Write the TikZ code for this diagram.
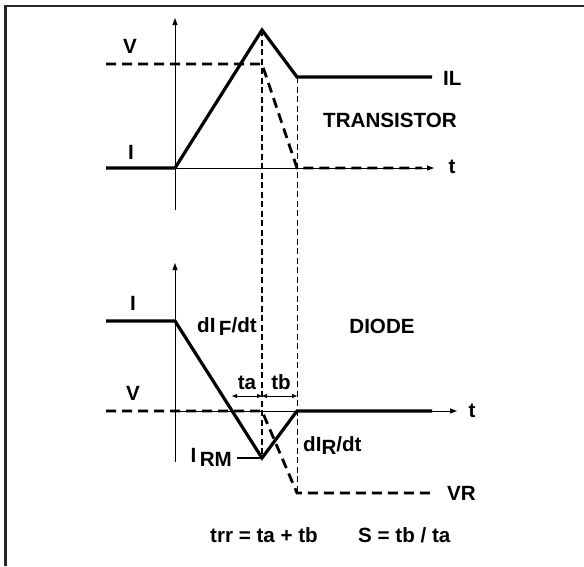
\documentclass[tikz,border=0pt]{standalone}
\usepackage{fontspec}
\setmainfont{Liberation Sans}
\usetikzlibrary{arrows.meta}
\begin{document}
\begin{tikzpicture}[x=1pt,y=-1pt,
  thickline/.style={line width=3.2pt, line join=miter},
  thickdash/.style={line width=2.8pt, dash pattern=on 10pt off 6pt},
  guideA/.style={line width=1.5pt, dash pattern=on 6pt off 3.5pt},
  guideB/.style={line width=1pt, dash pattern=on 6pt off 3.5pt},
  axisarrow/.style={-{Triangle[length=7pt,width=5pt]}, line width=0.9pt},
  dimarrow/.style={{Triangle[length=5pt,width=4pt]}-{Triangle[length=5pt,width=4pt]}, line width=0.9pt},
  lbl/.style={font=\fontsize{20.6}{24}\selectfont\bfseries, inner sep=0pt},
  ]
\useasboundingbox (0,0) rectangle (584,566);
% frame
\coordinate (fbl) at (5.5,566);
\coordinate (ftl) at (5.5,6);
\coordinate (ftr) at (584,6);
\draw[line width=2.5pt, color=black!85] (fbl) -- (ftl) -- (ftr);

% ---------- TRANSISTOR ----------
\coordinate (tA) at (106,168);
\coordinate (tO) at (175,168);
\coordinate (tPk) at (262,30);
\coordinate (tK) at (297,77);
\coordinate (tIL) at (432,77);
\coordinate (tAxB) at (175,210);
\coordinate (tAxT) at (175,18);
\coordinate (tTend) at (434,168);
\coordinate (tVa) at (106,64);
\coordinate (tVb) at (262,64);
\coordinate (tVc) at (297,168);
\coordinate (tVd) at (422,168);

\draw[axisarrow] (tAxB) -- (tAxT);
\draw[axisarrow] (tO) -- (tTend);
\draw[thickline] (tA) -- (tO) -- (tPk) -- (tK) -- (tIL);
\draw[thickdash] (tVa) -- (tVb) -- (tVc) -- (tVd);

\node[lbl, anchor=base] (tV) at (130,53) {V};
\node[lbl, anchor=base] (tI) at (131,159) {I};
\node[lbl, anchor=base west] (tILl) at (443,85) {IL};
\node[lbl, anchor=base] (tTR) at (390,127) {TRANSISTOR};
\node[lbl, anchor=base] (tt) at (452,173) {t};

% ---------- DIODE ----------
\coordinate (dA) at (106,321);
\coordinate (dO) at (175,321);
\coordinate (dRM) at (262,458);
\coordinate (dK) at (297,411);
\coordinate (dE) at (432,411);
\coordinate (dAxB) at (175,462);
\coordinate (dAxT) at (175,263);
\coordinate (dTs) at (175,411);
\coordinate (dTend) at (457,411);
\coordinate (dVa) at (106,411);
\coordinate (dVb) at (262,411);
\coordinate (dVc) at (297,493);
\coordinate (dVd) at (430,493);
\coordinate (dX) at (232,396);
\coordinate (dM) at (262,396);
\coordinate (dN) at (297,396);
\coordinate (dIRMs) at (237,458);

\draw[axisarrow] (dAxB) -- (dAxT);
\draw[axisarrow] (dTs) -- (dTend);
\draw[thickline] (dA) -- (dO) -- (dRM) -- (dK) -- (dE);
\draw[thickdash] (dVa) -- (dVb) -- (dVc) -- (dVd);
\draw[line width=1.3pt] (dIRMs) -- (dRM);

% guides
\draw[guideA] (tPk) -- (dRM);
\draw[guideB] (tK) -- (dVc);

\draw[dimarrow] (dX) -- (dM);
\draw[dimarrow] (dM) -- (dN);

\node[lbl, anchor=base] (dI) at (133,310) {I};
\node[lbl, anchor=base] (dV) at (133,400) {V};
\node[lbl, anchor=base] (dt) at (472,417) {t};
\node[lbl, anchor=base] (dDI) at (382,333) {DIODE};
\node[lbl, anchor=base west] (dIF) at (197,332) {dI\,\raisebox{-3pt}{F}/dt};
\node[lbl, anchor=base] (dta) at (247,389) {ta};
\node[lbl, anchor=base] (dtb) at (281,389) {tb};
\node[lbl, anchor=base east] (dIRM) at (232,462) {I\,\raisebox{-4pt}{RM}};
\node[lbl, anchor=base west] (dIR) at (303,451) {dI\raisebox{-3pt}{R}/dt};
\node[lbl, anchor=base west] (dVR) at (447,500) {VR};
\node[lbl, anchor=base west] (dtrr) at (210,542) {trr = ta + tb};
\node[lbl, anchor=base west] (dS) at (358,542) {S = tb / ta};
\end{tikzpicture}
\end{document}
